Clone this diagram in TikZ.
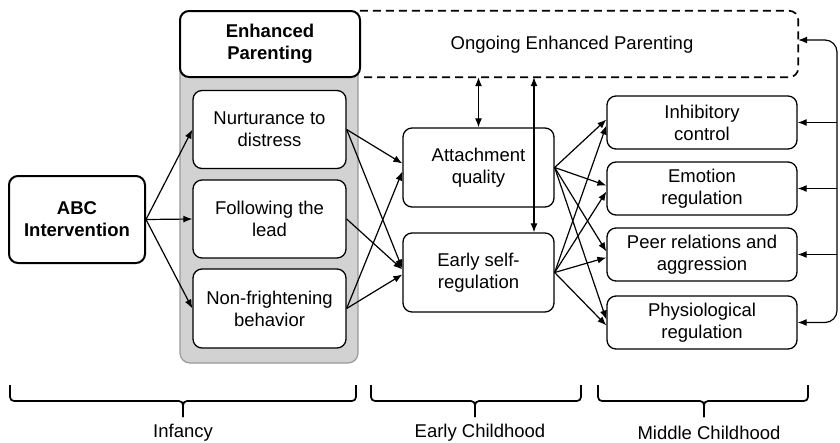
\documentclass[tikz,border=0pt]{standalone}
\usepackage{fontspec}
\setmainfont{Liberation Sans}
\usetikzlibrary{arrows.meta,calc}
\definecolor{panelgray}{HTML}{D2D2D2}
\definecolor{panelline}{HTML}{9A9A9A}
\tikzset{
  box/.style={draw=black, line width=1.3pt, rounded corners=9pt, fill=white, align=center,
    inner sep=0pt, font=\fontsize{18.5}{22}\selectfont},
  boldbox/.style={box, line width=2pt, font=\fontsize{18.5}{22}\selectfont\bfseries},
  arr/.style={line width=1.2pt, -{Latex[length=9pt,width=7pt]}},
  darr/.style={line width=1.2pt, {Latex[length=9pt,width=7pt]}-{Latex[length=9pt,width=7pt]}},
  brc/.style={line width=1.7pt, rounded corners=4pt},
  agelabel/.style={font=\fontsize{18.5}{22}\selectfont, inner sep=0pt}
}
\newcommand{\ageBrace}[3]{%
  \draw[brc] (#1,385) |- (#2,401) -- (#2,417);
  \draw[brc] (#3,385) |- (#2,401) -- (#2,417);
}
\begin{document}
\begin{tikzpicture}[x=1pt,y=-1pt]
\useasboundingbox (0,0) rectangle (840,442);
% gray panel
\draw[fill=panelgray, draw=panelline, line width=1.2pt, rounded corners=10pt] (180,20) rectangle (358,363);
% nodes
\node[boldbox, minimum width=136, minimum height=87] (abc) at (77,219.5) {ABC\\Intervention};
\node[boldbox, minimum width=180, minimum height=66] (ep) at (270,44) {Enhanced\\Parenting};
\node[minimum width=438, minimum height=66, inner sep=0pt] (oep) at (579,44) {};
\node[font=\fontsize{18.5}{22}\selectfont, inner sep=0pt] (oept) at (572,45) {Ongoing Enhanced Parenting};
\draw[line width=1.7pt, dash pattern=on 8pt off 5pt, rounded corners=9pt]
  (oep.north west) -- (oep.north east) -- (oep.south east) -- (oep.south west);
\node[box, minimum width=153, minimum height=78] (nur) at (269.5,129.5) {Nurturance to\\distress};
\node[box, minimum width=153, minimum height=78] (fol) at (269.5,219) {Following the\\lead};
\node[box, minimum width=153, minimum height=79] (nonf) at (269.5,308.5) {Non-frightening\\behavior};
\node[box, minimum width=151, minimum height=79] (att) at (478.5,167.5) {Attachment\\quality};
\node[box, minimum width=151, minimum height=79] (esr) at (478.5,272.5) {Early self-\\regulation};
\node[box, minimum width=190, minimum height=53] (inh) at (702,122.5) {Inhibitory\\control};
\node[box, minimum width=190, minimum height=53] (emo) at (702,188.5) {Emotion\\regulation};
\node[box, minimum width=190, minimum height=53] (peer) at (702,254.5) {Peer relations and\\aggression};
\node[box, minimum width=190, minimum height=53] (phys) at (702,322.5) {Physiological\\regulation};
% ABC to parenting behaviours
\draw[arr] (abc.east) -- (nur.west);
\draw[arr] (abc.east) -- (fol.west);
\draw[arr] (abc.east) -- (nonf.west);
% parenting to early childhood
\draw[arr] (nur.east) -- ($(att.west)+(0,-4)$);
\draw[arr] (nur.east) -- ($(esr.west)+(0,-4)$);
\draw[arr] (fol.east) -- ($(esr.west)+(0,-3)$);
\draw[arr] (nonf.east) -- ($(att.west)+(0,4)$);
\draw[arr] (nonf.east) -- ($(esr.west)+(0,2)$);
% early childhood to middle childhood
\foreach \t/\o in {inh/-3,emo/-3,peer/-3,phys/-3}{
  \draw[arr] (att.east) -- ($(\t.west)+(0,\o)$);
}
\foreach \t/\o in {inh/3,emo/3,peer/3,phys/3}{
  \draw[arr] (esr.east) -- ($(\t.west)+(0,\o)$);
}
% bidirectional links with ongoing parenting
\draw[darr] (oep.south -| att.north) -- (att.north);
\coordinate (esrtop) at ($(esr.north)+(55.5,0)$);
\draw[darr] (oep.south -| esrtop) -- (esrtop);
% feedback loop
\coordinate (fbx) at (837,0);
\coordinate (oepin) at ($(oep.east)+(0,-4)$);
\draw[darr, rounded corners=12pt] (oepin) -| (fbx |- emo.east) |- (phys.east);
\draw[arr] (fbx |- inh.east) -- (inh.east);
\draw[arr] (fbx |- emo.east) -- (emo.east);
\draw[arr] (fbx |- peer.east) -- (peer.east);
% braces
\ageBrace{10}{183}{356}
\ageBrace{371}{475}{581}
\ageBrace{598}{704}{808}
\node[agelabel] (inf) at (183,433) {Infancy};
\node[agelabel] (ech) at (480,433) {Early Childhood};
\node[agelabel] (mch) at (709,433) {Middle Childhood};
\end{tikzpicture}
\end{document}
